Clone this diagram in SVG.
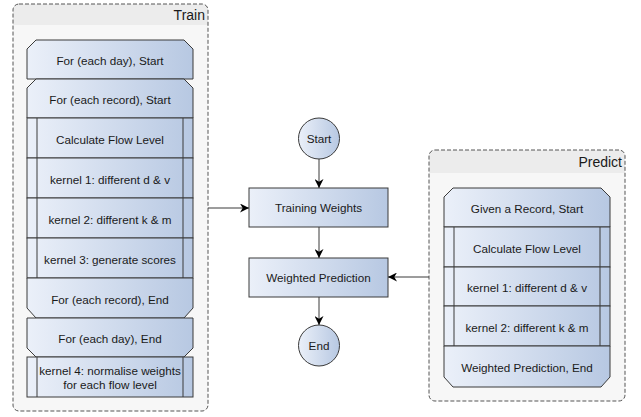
<svg xmlns="http://www.w3.org/2000/svg" width="641" height="417" viewBox="0 0 641 417">
<defs>
<linearGradient id="g" x1="0" y1="0" x2="1" y2="0">
<stop offset="0" stop-color="#ebf0f9"/>
<stop offset="1" stop-color="#b7c8e2"/>
</linearGradient>
<marker id="ah" viewBox="0 0 10 10" refX="10" refY="5" markerWidth="9" markerHeight="9" markerUnits="userSpaceOnUse" orient="auto">
<path d="M0,0 L10,5 L0,10 L3,5 z" fill="#000"/>
</marker>
</defs>
<style>
.cont{fill:none;stroke:#555;stroke-width:1;stroke-dasharray:4 2}
.hdr{fill:#ececec}
.sh{fill:url(#g);stroke:#3a3a3a;stroke-width:1}
.ln{stroke:#3a3a3a;stroke-width:1;fill:none}
.t{font-family:"Liberation Sans",Arial,sans-serif;font-size:11.7px;fill:#1a1a1a;text-anchor:middle}
.ti{font-family:"Liberation Sans",Arial,sans-serif;font-size:14px;fill:#1a1a1a;text-anchor:end}
.c{stroke:#3a3a3a;stroke-width:1;fill:none;marker-end:url(#ah)}
</style>

<g id="train">
<rect x="13" y="4" width="195" height="407" rx="6" fill="#f7f7f7"/>
<path d="M19,4 H202 A6,6 0 0 1 208,10 V25 H13 V10 A6,6 0 0 1 19,4 Z" class="hdr"/>
<rect x="13" y="4" width="195" height="407" rx="6" class="cont"/>
<text class="ti" x="205" y="20">Train</text>
</g>

<g id="t1">
<path class="sh" d="M36,40 H184 L193,49 V79 H27 V49 Z"/>
<text class="t" x="110" y="65">For (each day), Start</text>
</g>
<g id="t2">
<path class="sh" d="M36,79 H184 L193,88 V118 H27 V88 Z"/>
<text class="t" x="110" y="104">For (each record), Start</text>
</g>
<g id="t3">
<rect class="sh" x="27" y="118" width="166" height="40"/>
<path class="ln" d="M37,118 V158 M183,118 V158"/>
<text class="t" x="110" y="143.5">Calculate Flow Level</text>
</g>
<g id="t4">
<rect class="sh" x="27" y="158" width="166" height="40"/>
<path class="ln" d="M37,158 V198 M183,158 V198"/>
<text class="t" x="110" y="183.5">kernel 1: different d &amp; v</text>
</g>
<g id="t5">
<rect class="sh" x="27" y="198" width="166" height="40"/>
<path class="ln" d="M37,198 V238 M183,198 V238"/>
<text class="t" x="110" y="223.5">kernel 2: different k &amp; m</text>
</g>
<g id="t6">
<rect class="sh" x="27" y="238" width="166" height="40"/>
<path class="ln" d="M37,238 V278 M183,238 V278"/>
<text class="t" x="110" y="263.5">kernel 3: generate scores</text>
</g>
<g id="t7">
<path class="sh" d="M27,278 H193 V308 L184,318 H36 L27,308 Z"/>
<text class="t" x="110" y="303.5">For (each record), End</text>
</g>
<g id="t8">
<path class="sh" d="M27,318 H193 V348 L184,357 H36 L27,348 Z"/>
<text class="t" x="110" y="342.5">For (each day), End</text>
</g>
<g id="t9">
<rect class="sh" x="27" y="357" width="166" height="40"/>
<path class="ln" d="M37,357 V397 M183,357 V397"/>
<text class="t" x="110" y="375">kernel 4: normalise weights</text>
<text class="t" x="110" y="389">for each flow level</text>
</g>

<g id="predict">
<rect x="429" y="150" width="196" height="251" rx="6" fill="#f7f7f7"/>
<path d="M435,150 H619 A6,6 0 0 1 625,156 V173 H429 V156 A6,6 0 0 1 435,150 Z" class="hdr"/>
<rect x="429" y="150" width="196" height="251" rx="6" class="cont"/>
<text class="ti" x="622" y="167">Predict</text>
</g>

<g id="p1">
<path class="sh" d="M453,188 H601 L610,197 V227 H444 V197 Z"/>
<text class="t" x="527" y="212.5">Given a Record, Start</text>
</g>
<g id="p2">
<rect class="sh" x="444" y="227" width="166" height="40"/>
<path class="ln" d="M454,227 V267 M600,227 V267"/>
<text class="t" x="527" y="252.5">Calculate Flow Level</text>
</g>
<g id="p3">
<rect class="sh" x="444" y="267" width="166" height="39"/>
<path class="ln" d="M454,267 V306 M600,267 V306"/>
<text class="t" x="527" y="291.5">kernel 1: different d &amp; v</text>
</g>
<g id="p4">
<rect class="sh" x="444" y="306" width="166" height="40"/>
<path class="ln" d="M454,306 V346 M600,306 V346"/>
<text class="t" x="527" y="331.5">kernel 2: different k &amp; m</text>
</g>
<g id="p5">
<path class="sh" d="M444,346 H610 V377 L601,387 H453 L444,377 Z"/>
<text class="t" x="527" y="371.5">Weighted Prediction, End</text>
</g>

<g id="start">
<circle class="sh" cx="319" cy="138.5" r="20.5"/>
<text class="t" x="319" y="142.5">Start</text>
</g>
<g id="training">
<rect class="sh" x="249" y="188" width="139" height="39"/>
<text class="t" x="318.5" y="212">Training Weights</text>
</g>
<g id="weighted">
<rect class="sh" x="249" y="258" width="139" height="39"/>
<text class="t" x="318.5" y="282">Weighted Prediction</text>
</g>
<g id="end">
<circle class="sh" cx="319" cy="345.5" r="20.5"/>
<text class="t" x="319" y="349.5">End</text>
</g>

<g id="connectors">
<path class="c" d="M319,159 V188"/>
<path class="c" d="M319,227 V258"/>
<path class="c" d="M319,297 V325"/>
<path class="c" d="M208,208 H249"/>
<path class="c" d="M429,277 H388"/>
</g>
</svg>
